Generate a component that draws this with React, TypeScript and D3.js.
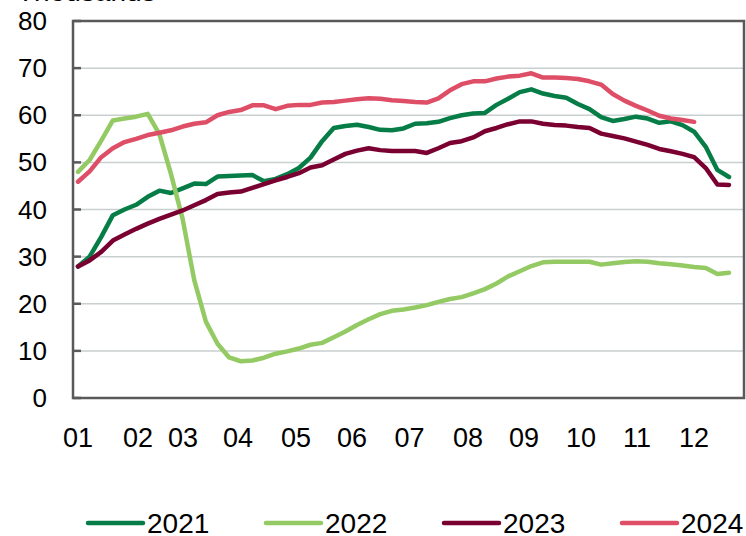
import React from "react";
import * as d3 from "d3";

const monthLabels = ["01","02","03","04","05","06","07","08","09","10","11","12"];
const monthTickPos = [0, 5.16, 9.03, 13.76, 18.75, 23.57, 28.52, 33.55, 38.37, 43.27, 48.09, 52.99];
const yTicks = [0, 10, 20, 30, 40, 50, 60, 70, 80];

const s2021 = [27.9,30,34.2,38.8,40,41,42.7,44,43.5,44.5,45.5,45.4,47,47.1,47.2,47.3,46,46.5,47.5,48.8,51,54.5,57.3,57.7,58,57.5,56.9,56.8,57.2,58.2,58.3,58.6,59.4,60,60.35,60.5,62.2,63.5,64.9,65.5,64.6,64.1,63.7,62.4,61.3,59.6,58.8,59.2,59.7,59.3,58.4,58.7,57.9,56.5,53.3,48.4,46.9];
const s2022 = [48,50.5,54.6,58.9,59.3,59.7,60.3,56,47.5,38,25,16.2,11.5,8.6,7.8,7.95,8.55,9.4,9.9,10.5,11.3,11.7,12.9,14.1,15.5,16.7,17.8,18.5,18.8,19.2,19.7,20.4,21,21.4,22.2,23.1,24.3,25.8,26.9,28,28.8,28.9,28.9,28.9,28.9,28.3,28.6,28.85,29,28.9,28.6,28.4,28.1,27.8,27.6,26.3,26.6];
const s2023 = [27.9,29.2,31,33.4,34.7,35.9,37,38,38.9,39.8,40.9,42,43.3,43.6,43.8,44.6,45.4,46.2,46.9,47.7,48.9,49.4,50.6,51.8,52.5,53,52.6,52.4,52.4,52.4,52,53,54.1,54.5,55.3,56.6,57.3,58.1,58.7,58.7,58.2,57.95,57.8,57.5,57.3,56.1,55.6,55.1,54.4,53.7,52.85,52.35,51.8,51.1,48.8,45.3,45.2];
const s2024 = [45.9,48.1,51.1,53,54.3,55,55.8,56.3,56.8,57.6,58.2,58.5,60,60.7,61.1,62.1,62.1,61.3,62,62.2,62.2,62.7,62.8,63.1,63.4,63.6,63.5,63.2,63,62.8,62.7,63.6,65.3,66.6,67.2,67.2,67.8,68.2,68.4,68.9,68,68,67.9,67.7,67.2,66.5,64.5,63.1,62,61,59.9,59.3,59,58.6];

const seriesNames = ["2021", "2022", "2023", "2024"];
const seriesData = [s2021, s2022, s2023, s2024];
const seriesColors = ["#067d46", "#93ca63", "#7a0031", "#de4e67"];

const W = 746, H = 536;
const left = 73, right = 744, top = 21, bottom = 398;

export default function App() {
  const x = d3.scaleLinear().domain([0, 56]).range([78, 729]);
  const y = d3.scaleLinear().domain([0, 80]).range([bottom, top]);
  const line = d3.line<number>().x((_, i) => x(i)).y(d => y(d));
  const font = "'Liberation Sans', Arial, sans-serif";
  const legendX = [88, 266, 444, 622];

  return (
    <svg width={W} height={H} style={{ position: "absolute", left: 0, top: 0, background: "#fff" }} fontFamily={font}>
      <text x={17} y={1} fontSize={28} fill="#000">Thousands</text>
      {yTicks.slice(1, -1).map(t => (
        <line key={"g" + t} x1={left} x2={right} y1={y(t)} y2={y(t)} stroke="#c9cecf" strokeWidth={1.5} />
      ))}
      {seriesData.map((d, k) => (
        <path key={seriesNames[k]} d={line(d) || ""} fill="none" stroke={seriesColors[k]} strokeWidth={4.5} strokeLinejoin="round" strokeLinecap="round" />
      ))}
      <rect x={left} y={top} width={right - left} height={bottom - top} fill="none" stroke="#595959" strokeWidth={2.5} />
      {yTicks.map(t => (
        <g key={"y" + t}>
          <line x1={left} x2={left + 8} y1={y(t)} y2={y(t)} stroke="#595959" strokeWidth={2.5} />
          <text x={47} y={y(t)} dy="0.35em" textAnchor="end" fontSize={26} fill="#000">{t}</text>
        </g>
      ))}
      {monthLabels.map((m, i) => (
        <text key={m} x={x(monthTickPos[i])} y={447} textAnchor="middle" fontSize={27} fill="#000">{m}</text>
      ))}
      {seriesNames.map((n, k) => (
        <g key={"l" + n}>
          <line x1={legendX[k]} x2={legendX[k] + 55} y1={523} y2={523} stroke={seriesColors[k]} strokeWidth={4.5} strokeLinecap="round" />
          <text x={legendX[k] + 59} y={533} fontSize={28} fill="#000">{n}</text>
        </g>
      ))}
    </svg>
  );
}
